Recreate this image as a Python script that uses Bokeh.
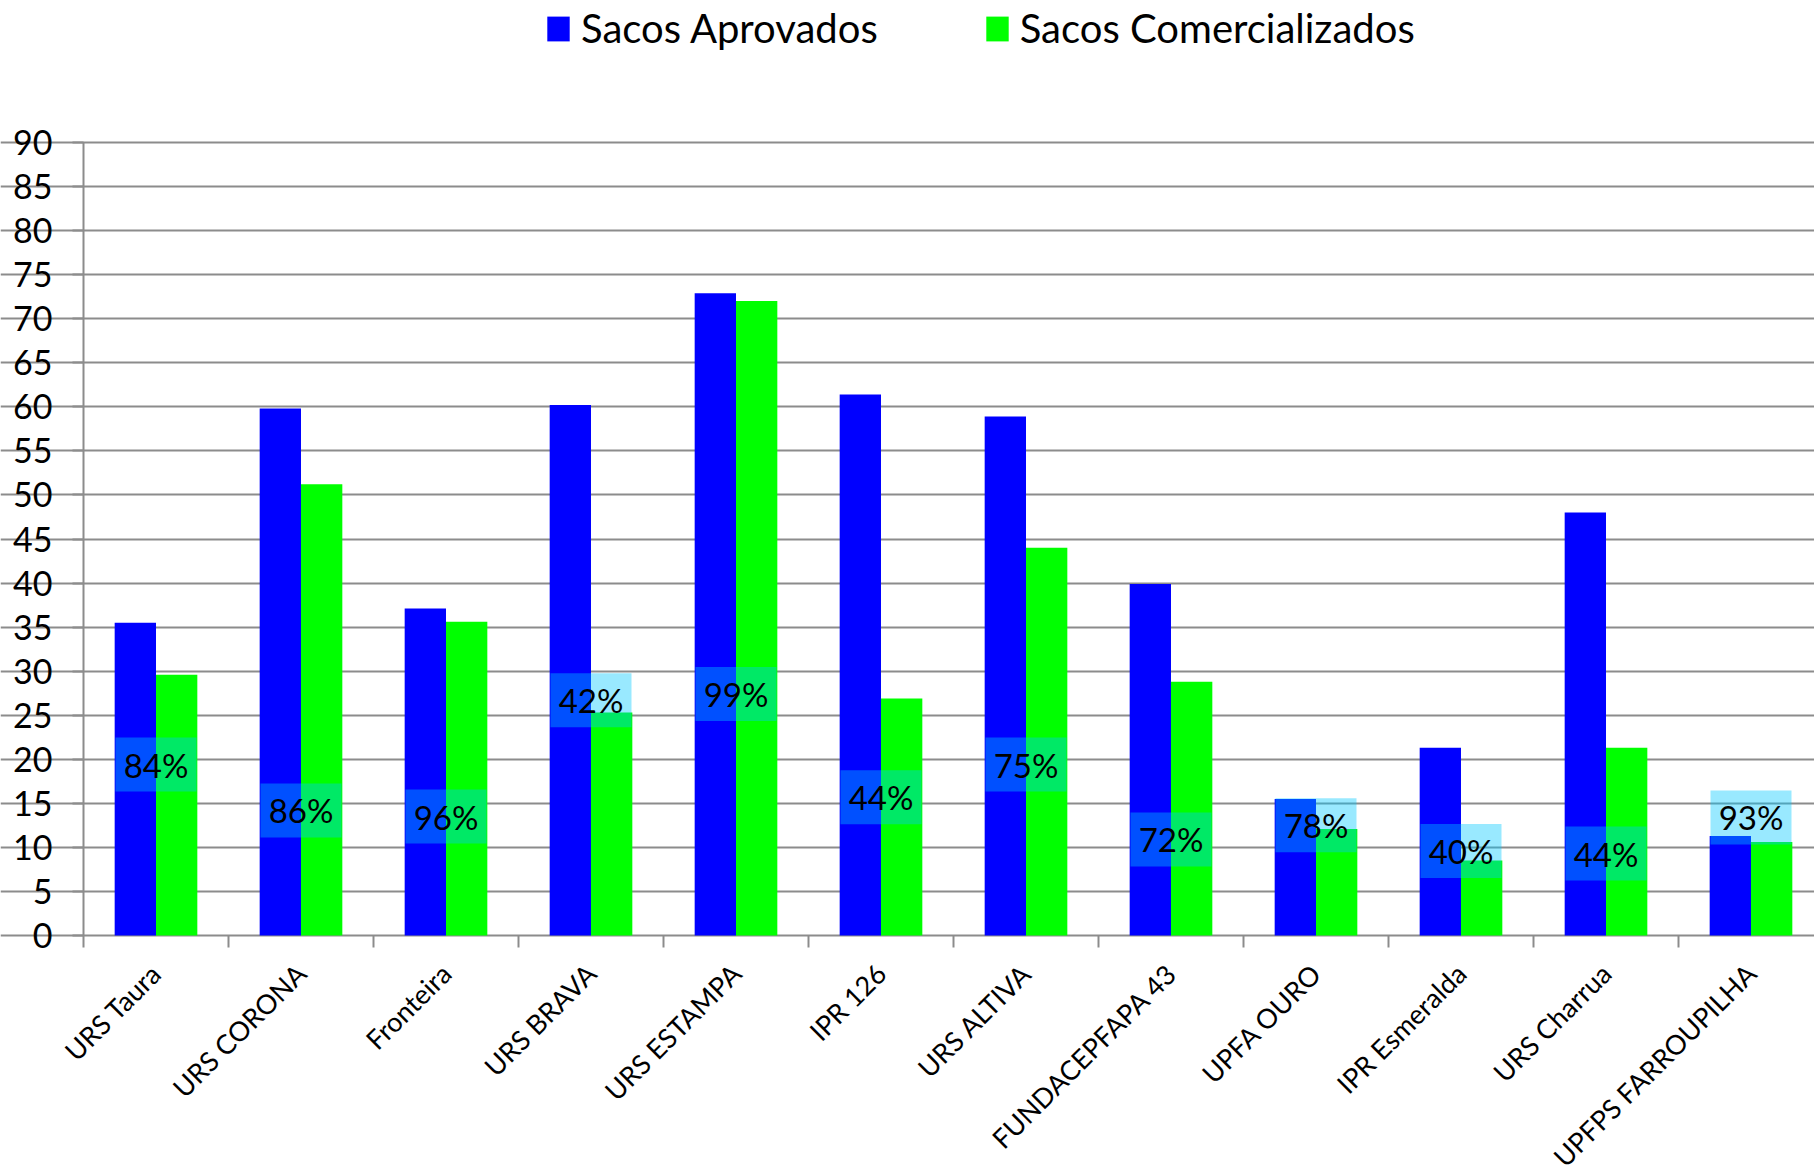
import math
from bokeh.plotting import figure
from bokeh.models import Range1d, FixedTicker, Legend, LegendItem, ColumnDataSource, LabelSet
from bokeh.embed import file_html
from bokeh.resources import INLINE
from bokeh.core.properties import value

categories = ["URS Taura", "URS CORONA", "Fronteira", "URS BRAVA", "URS ESTAMPA", "IPR 126",
              "URS ALTIVA", "FUNDACEPFAPA 43", "UPFA OURO", "IPR Esmeralda", "URS Charrua",
              "UPFPS FARROUPILHA"]
aprovados = [35.5, 59.8, 37.1, 60.2, 72.9, 61.4, 58.9, 39.9, 15.5, 21.3, 48.0, 11.3]
comercializados = [29.6, 51.2, 35.6, 25.3, 72.0, 26.9, 44.0, 28.8, 12.1, 8.5, 21.3, 10.6]
pct_labels = ["84%", "86%", "96%", "42%", "99%", "44%", "75%", "72%", "78%", "40%", "44%", "93%"]
pct_label_y = [19.4, 14.2, 13.5, 26.7, 27.4, 15.7, 19.4, 10.9, 12.5, 9.6, 9.3, 13.4]
y_ticks = list(range(0, 95, 5))

FONT = "Lato"
GRAY = "#8c8c8c"
BAR_W = 0.285

# layout: value axis 0..90 spans pixels 142..935, categories start at x=83, 145 px each
PX_PER_UNIT = 793 / 90
Y_TOP = 90 + 142 / PX_PER_UNIT
Y_BOTTOM = -(1171 - 935) / PX_PER_UNIT
X_LEFT = -83 / 145
X_RIGHT = (1814 - 83) / 145

n = len(categories)
centers = [i + 0.5 for i in range(n)]
src = ColumnDataSource(dict(
    xa=[c - BAR_W / 2 for c in centers],
    xc=[c + BAR_W / 2 for c in centers],
    xm=centers,
    zero=[0] * n,
    cat=categories,
    apr=aprovados,
    com=comercializados,
    lab=pct_labels,
    ly=pct_label_y,
))
bsrc = ColumnDataSource(dict(xb=list(range(n + 1)), yb=[0] * (n + 1)))

p = figure(width=1814, height=1171, x_range=Range1d(X_LEFT, X_RIGHT), y_range=Range1d(Y_BOTTOM, Y_TOP),
           output_backend="svg", toolbar_location=None, x_axis_location=None,
           min_border_left=0, min_border_right=0, min_border_top=0, min_border_bottom=0)
p.outline_line_color = None
p.background_fill_color = "white"

p.xgrid.grid_line_color = None
p.ygrid.ticker = FixedTicker(ticks=y_ticks)
p.ygrid.grid_line_color = GRAY
p.ygrid.grid_line_width = 2
p.ygrid.bounds = (0, X_RIGHT)

# category-boundary tick marks below the zero line
p.ray(x="xb", y="yb", source=bsrc, length=12, length_units="screen", angle=-math.pi / 2,
      line_color=GRAY, line_width=2)

r1 = p.vbar(x="xa", top="apr", width=BAR_W, bottom=0, source=src, fill_color="#0000ff", line_color=None)
r2 = p.vbar(x="xc", top="com", width=BAR_W, bottom=0, source=src, fill_color="#00ff00", line_color=None)

p.rect(x="xm", y="ly", width=81, height=54, width_units="screen", height_units="screen",
       source=src, fill_color=(0, 200, 255), fill_alpha=0.4, line_color=None)
p.text(x="xm", y="ly", text="lab", source=src, text_font=value(FONT), text_font_size="33px",
       text_align="center", text_baseline="middle", text_color="black")

# y axis, drawn at the start of the first category
ya = p.yaxis[0]
ya.fixed_location = 0
ya.ticker = FixedTicker(ticks=y_ticks)
ya.bounds = (0, 90)
ya.major_label_text_font = FONT
ya.major_label_text_font_size = "34px"
ya.major_label_text_color = "black"
ya.major_tick_out = 11
ya.major_tick_in = 0
ya.major_tick_line_color = GRAY
ya.major_tick_line_width = 2
ya.minor_tick_line_color = None
ya.axis_line_color = GRAY
ya.axis_line_width = 2
ya.major_label_standoff = 20

cat_labels = LabelSet(x="xm", y="zero", text="cat", source=src, angle=math.pi / 4,
                      y_offset=-33, text_align="right", text_baseline="middle",
                      text_font=value(FONT), text_font_size="27px", text_color="black")
p.add_layout(cat_labels)

legend = Legend(items=[LegendItem(label="Sacos Aprovados", renderers=[r1]),
                       LegendItem(label="Sacos Comercializados", renderers=[r2])],
                orientation="horizontal", location=(544, 1119),
                label_text_font=FONT, label_text_font_size="40px", label_text_color="black",
                glyph_width=28, glyph_height=31, label_standoff=9, spacing=105,
                padding=0, margin=0, border_line_color=None, background_fill_alpha=0)
p.add_layout(legend, "center")

open("out.html", "w").write(file_html(p, INLINE))
